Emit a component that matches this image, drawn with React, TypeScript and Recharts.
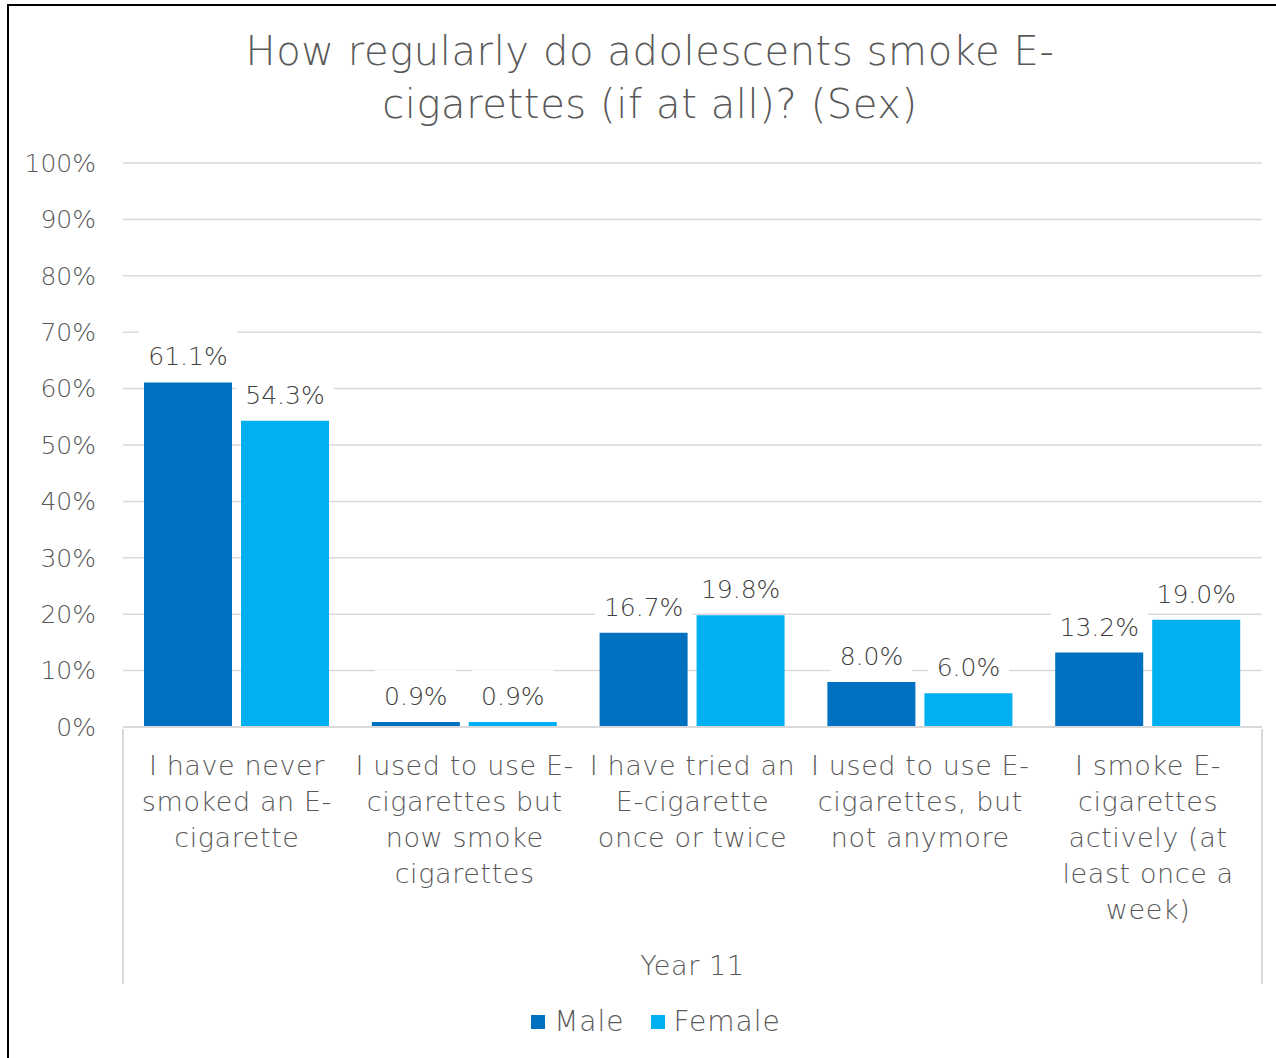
import React from "react";
import { BarChart, Bar, XAxis, YAxis, CartesianGrid, Legend, LabelList } from "recharts";

const TITLE = ["How regularly do adolescents smoke E-", "cigarettes (if at all)? (Sex)"];
const GROUP_LABEL = "Year 11";

// answer options, one entry per line of the wrapped axis label
const CATEGORIES = [
  ["I have never", "smoked an E-", "cigarette"],
  ["I used to use E-", "cigarettes but", "now smoke", "cigarettes"],
  ["I have tried an", "E-cigarette", "once or twice"],
  ["I used to use E-", "cigarettes, but", "not anymore"],
  ["I smoke E-", "cigarettes", "actively (at", "least once a", "week)"],
];
const MALE = [61.1, 0.9, 16.7, 8.0, 13.2];
const FEMALE = [54.3, 0.9, 19.8, 6.0, 19.0];
const Y_TICKS = [0, 10, 20, 30, 40, 50, 60, 70, 80, 90, 100];

const SERIES = [
  { key: "male", name: "Male", color: "#0070C0" },
  { key: "female", name: "Female", color: "#00B0F0" },
];

const data = CATEGORIES.map((lines, i) => ({
  category: lines.join(" "),
  male: MALE[i],
  female: FEMALE[i],
}));

const FONT = "'DejaVu Sans', sans-serif";
const TEXT = "#595959";
const W = 1276;
const H = 1058;
const MARGIN = { top: 163, right: 14, bottom: 0, left: 0 };
const Y_AXIS_W = 123;
const X_AXIS_H = 271;
const BAND = (W - MARGIN.left - MARGIN.right - Y_AXIS_W) / CATEGORIES.length;

let ctx: CanvasRenderingContext2D | null = null;
function textWidth(s: string, size: number) {
  if (!ctx) ctx = document.createElement("canvas").getContext("2d");
  if (!ctx) return s.length * size * 0.6;
  ctx.font = `300 ${size}px ${FONT}`;
  return ctx.measureText(s).width;
}

const fmt = (v: number) => `${v.toFixed(1)}%`;

function ValueLabel(props: any) {
  const { x, y, width, value } = props;
  const s = fmt(Number(value));
  const size = 25;
  const cx = x + width / 2;
  const base = y - 17;
  const tw = textWidth(s, size);
  return (
    <g>
      <rect x={cx - tw / 2 - 9} y={base - 35} width={tw + 18} height={44} fill="#fff" />
      <text x={cx} y={base} textAnchor="middle" fontFamily={FONT} fontWeight={300} fontSize={size} fill="#404040">
        {s}
      </text>
    </g>
  );
}

const labelStyle = { fontFamily: FONT, fontWeight: 300, fontSize: 27, letterSpacing: 0.6 };

function CategoryTick(props: any) {
  const { x, y, index } = props;
  const lines = CATEGORIES[index] || [];
  const last = CATEGORIES.length - 1;
  return (
    <g>
      {lines.map((l, i) => (
        <text key={i} x={x} y={y + 36 + i * 36} dy="0.36em" textAnchor="middle" fill={TEXT} style={labelStyle}>
          {l}
        </text>
      ))}
      {index === 0 && <line x1={x - BAND / 2} x2={x - BAND / 2} y1={y} y2={y + 255} stroke="#d9d9d9" strokeWidth={2} />}
      {index === last && <line x1={x + BAND / 2} x2={x + BAND / 2} y1={y} y2={y + 255} stroke="#d9d9d9" strokeWidth={2} />}
      {index === Math.floor(last / 2) && (
        <text x={x} y={y + 236} dy="0.36em" textAnchor="middle" fill={TEXT} style={labelStyle}>
          {GROUP_LABEL}
        </text>
      )}
    </g>
  );
}

function LegendContent() {
  return (
    <div style={{ height: 60, display: "flex", justifyContent: "center", alignItems: "flex-start", paddingLeft: 76, boxSizing: "border-box", fontFamily: FONT, fontWeight: 300, fontSize: 28, letterSpacing: 1, color: TEXT }}>
      {SERIES.map((s) => (
        <div key={s.key} style={{ display: "flex", alignItems: "center", marginRight: 26, marginTop: 9 }}>
          <span style={{ width: 14, height: 14, background: s.color, display: "inline-block", marginRight: 9 }} />
          <span style={{ lineHeight: "30px" }}>{s.name}</span>
        </div>
      ))}
    </div>
  );
}

export default function App() {
  return (
    <div style={{ position: "absolute", left: 0, top: 0, width: W, height: H, background: "#fff", overflow: "hidden" }}>
      <div style={{ position: "absolute", left: 7, top: 4, right: 0, bottom: 0, borderTop: "2px solid #000", borderLeft: "2px solid #000" }} />
      <div style={{ position: "absolute", left: 150, width: 1000, top: 25, textAlign: "center", fontFamily: FONT, fontWeight: 300, fontSize: 40, letterSpacing: 0.6, lineHeight: "53px", color: TEXT }}>
        {TITLE.map((t) => (
          <div key={t}>{t}</div>
        ))}
      </div>
      <div style={{ position: "absolute", left: 0, top: 0 }}>
        <BarChart width={W} height={H} data={data} margin={MARGIN} barCategoryGap={21} barGap={9}>
          <CartesianGrid vertical={false} stroke="#d9d9d9" strokeWidth={1.5} />
          <XAxis dataKey="category" height={X_AXIS_H} interval={0} tickLine={false} tickSize={0}
            axisLine={{ stroke: "#d9d9d9", strokeWidth: 2 }} tick={<CategoryTick />} />
          <YAxis width={Y_AXIS_W} domain={[0, 100]} ticks={Y_TICKS} axisLine={false} tickLine={false}
            tickSize={0} tickMargin={27} tickFormatter={(v: number) => `${v}%`}
            tick={{ fontFamily: FONT, fontWeight: 300, fontSize: 25, fill: TEXT }} />
          <Legend verticalAlign="bottom" height={60} content={<LegendContent />} />
          {SERIES.map((s) => (
            <Bar key={s.key} dataKey={s.key} name={s.name} fill={s.color} isAnimationActive={false}>
              <LabelList dataKey={s.key} content={<ValueLabel />} />
            </Bar>
          ))}
        </BarChart>
      </div>
    </div>
  );
}
